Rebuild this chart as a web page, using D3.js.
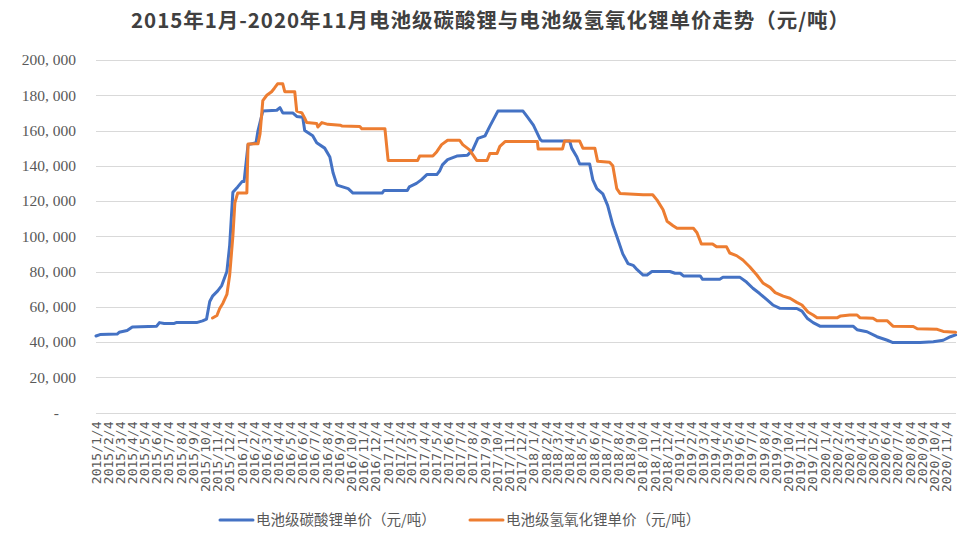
<!DOCTYPE html>
<html>
<head>
<meta charset="utf-8">
<script src="https://cdn.jsdelivr.net/npm/d3@7"></script>
<style>
  body { margin: 0; background: #fff; }
  svg { display: block; }
</style>
</head>
<body>
<svg id="graphic" width="974" height="543"></svg>
<script>
const title = '2015年1月-2020年11月电池级碳酸锂与电池级氢氧化锂单价走势（元/吨）';
const seriesNames = ['电池级碳酸锂单价（元/吨）', '电池级氢氧化锂单价（元/吨）'];

const carbonateDates = [
  '2015-01-04', '2015-01-14', '2015-02-26', '2015-03-03', '2015-03-23', '2015-04-05', '2015-06-05', '2015-06-12',
  '2015-06-24', '2015-07-19', '2015-07-24', '2015-09-13', '2015-09-28', '2015-10-08', '2015-10-16', '2015-10-23',
  '2015-11-05', '2015-11-15', '2015-11-28', '2015-12-05', '2015-12-13', '2015-12-25', '2016-01-05', '2016-01-10',
  '2016-01-20', '2016-02-09', '2016-02-14', '2016-02-26', '2016-04-01', '2016-04-09', '2016-04-16', '2016-05-11',
  '2016-05-21', '2016-06-05', '2016-06-10', '2016-06-30', '2016-07-10', '2016-07-30', '2016-08-12', '2016-08-20',
  '2016-08-30', '2016-09-27', '2016-10-09', '2016-12-21', '2016-12-26', '2017-02-22', '2017-02-27', '2017-03-17',
  '2017-03-29', '2017-04-12', '2017-05-07', '2017-05-14', '2017-05-21', '2017-06-03', '2017-06-26', '2017-07-23',
  '2017-08-05', '2017-08-18', '2017-09-05', '2017-09-17', '2017-10-07', '2017-12-09', '2017-12-19', '2018-01-04',
  '2018-01-21', '2018-01-26', '2018-04-05', '2018-04-10', '2018-04-23', '2018-04-30', '2018-05-25', '2018-06-02',
  '2018-06-12', '2018-06-27', '2018-07-09', '2018-07-22', '2018-08-04', '2018-08-16', '2018-08-29', '2018-09-11',
  '2018-09-21', '2018-10-06', '2018-10-16', '2018-10-28', '2018-12-12', '2018-12-25', '2019-01-07', '2019-01-15',
  '2019-02-26', '2019-03-04', '2019-04-16', '2019-04-24', '2019-06-05', '2019-06-22', '2019-07-08', '2019-07-25',
  '2019-08-12', '2019-08-27', '2019-09-14', '2019-10-26', '2019-11-08', '2019-11-21', '2019-12-06', '2019-12-23',
  '2020-03-15', '2020-03-25', '2020-04-19', '2020-05-14', '2020-06-09', '2020-06-23', '2020-08-30', '2020-10-02',
  '2020-10-27', '2020-11-14', '2020-11-27'
];
const carbonateValues = [
  43400, 44200, 44500, 45500, 46500, 48500, 49000, 51000,
  50500, 50500, 51000, 51000, 52000, 53000, 63000, 66000,
  69000, 72000, 80000, 95000, 125000, 128000, 131000, 131000,
  152000, 153000, 160000, 171000, 171500, 173000, 170000, 170000,
  168000, 167500, 160000, 157000, 153000, 150000, 145000, 136000,
  129000, 127000, 124500, 124500, 126000, 126000, 128000, 130000,
  132000, 135000, 135000, 137000, 140500, 143500, 145500, 146000,
  149000, 155500, 157000, 162500, 171000, 171000, 168000, 163000,
  155000, 154000, 154000, 150000, 145000, 141000, 141000, 132000,
  127000, 124000, 117500, 106500, 98000, 90000, 84500, 83500,
  81000, 78000, 78000, 80000, 80000, 79000, 79000, 77500,
  77500, 75600, 75600, 76700, 76800, 74000, 70500, 67500,
  64000, 61000, 59100, 59000, 57500, 53500, 51000, 49000,
  49000, 47000, 45800, 43000, 41000, 39700, 39700, 40200,
  41000, 43000, 44000
];

const hydroxideDates = [
  '2015-10-23', '2015-11-03', '2015-11-10', '2015-11-18', '2015-11-28', '2015-12-05', '2015-12-13', '2015-12-18',
  '2015-12-25', '2016-01-17', '2016-01-20', '2016-02-14', '2016-02-19', '2016-02-26', '2016-03-07', '2016-03-19',
  '2016-03-26', '2016-04-03', '2016-04-16', '2016-04-21', '2016-05-16', '2016-05-21', '2016-06-03', '2016-06-10',
  '2016-06-15', '2016-07-10', '2016-07-13', '2016-07-23', '2016-08-07', '2016-09-07', '2016-09-12', '2016-10-26',
  '2016-10-31', '2016-12-28', '2017-01-05', '2017-03-20', '2017-03-25', '2017-04-27', '2017-05-07', '2017-05-19',
  '2017-06-03', '2017-07-03', '2017-07-11', '2017-07-28', '2017-08-15', '2017-09-10', '2017-09-17', '2017-10-05',
  '2017-10-12', '2017-10-25', '2018-01-14', '2018-01-16', '2018-03-18', '2018-03-23', '2018-04-30', '2018-05-08',
  '2018-06-07', '2018-06-14', '2018-07-14', '2018-07-22', '2018-08-01', '2018-08-09', '2018-10-06', '2018-10-30',
  '2018-11-10', '2018-11-25', '2018-12-05', '2018-12-20', '2018-12-30', '2019-02-09', '2019-02-18', '2019-03-01',
  '2019-03-29', '2019-04-08', '2019-05-03', '2019-05-11', '2019-05-28', '2019-06-13', '2019-06-30', '2019-07-18',
  '2019-08-02', '2019-08-20', '2019-09-02', '2019-09-22', '2019-10-09', '2019-10-26', '2019-11-08', '2019-11-23',
  '2019-12-06', '2019-12-16', '2020-02-05', '2020-02-13', '2020-03-07', '2020-03-25', '2020-04-01', '2020-05-04',
  '2020-05-14', '2020-06-09', '2020-06-23', '2020-08-13', '2020-08-23', '2020-10-12', '2020-10-27', '2020-11-27'
];
const hydroxideValues = [
  53600, 55000, 59000, 62000, 67000, 78000, 100000, 119000,
  124500, 124500, 152300, 152500, 158000, 177000, 180000, 182000,
  184000, 186500, 186500, 182000, 182000, 171000, 170000, 167000,
  164500, 164000, 162000, 164500, 163500, 163000, 162500, 162300,
  161000, 161000, 143000, 143000, 145500, 145500, 148000, 152000,
  154500, 154500, 152000, 149000, 143000, 143000, 147000, 147000,
  151000, 153700, 153700, 149500, 149500, 154000, 154000, 150000,
  150000, 142500, 142000, 140000, 127000, 124300, 123500, 123500,
  120500, 115000, 108500, 106000, 104500, 104500, 102000, 95600,
  95600, 94000, 94000, 90500, 89000, 86500, 82700, 78000,
  73500, 71000, 68000, 66000, 64800, 62500, 61000, 57000,
  55300, 53800, 53800, 54800, 55300, 55300, 53800, 53500,
  52000, 52000, 49000, 48800, 47500, 47200, 46000, 45500
];

const yTicks = [0, 20000, 40000, 60000, 80000, 100000, 120000, 140000, 160000, 180000, 200000];
const yTickLabels = ['-', '20, 000', '40, 000', '60, 000', '80, 000', '100, 000', '120, 000', '140, 000', '160, 000', '180, 000', '200, 000'];
const xDomain = ['2015-01-04', '2020-11-28'];

const colors = ['#4472C4', '#ED7D31'];
const parse = d3.timeParse('%Y-%m-%d');
const margin = {left: 96, right: 18, top: 60, bottom: 130.5};
const width = 974, height = 543;

const svg = d3.select('#graphic');

const xScale = d3.scaleTime()
    .domain(xDomain.map(parse))
    .range([margin.left, width - margin.right]);

const yScale = d3.scaleLinear()
    .domain([0, 200000])
    .range([height - margin.bottom, margin.top]);

// title
svg.append('text')
    .attr('x', 490)
    .attr('y', 28)
    .attr('text-anchor', 'middle')
    .attr('font-family', '"Noto Sans CJK SC", sans-serif')
    .attr('font-size', 20.5)
    .attr('font-weight', 'bold')
    .attr('fill', '#404040')
    .attr('textLength', 718)
    .attr('lengthAdjust', 'spacing')
    .text(title);

// grid
svg.append('g')
    .selectAll('line')
    .data(yTicks)
    .join('line')
    .attr('x1', margin.left)
    .attr('x2', width - margin.right)
    .attr('y1', (d) => Math.round(yScale(d)) + 0.5)
    .attr('y2', (d) => Math.round(yScale(d)) + 0.5)
    .attr('stroke', '#d9d9d9')
    .attr('stroke-width', 1);

// y axis labels
const yAxis = d3.axisLeft(yScale)
    .tickValues(yTicks)
    .tickSize(0)
    .tickPadding(0)
    .tickFormat((d, i) => yTickLabels[i]);

const yG = svg.append('g')
    .attr('transform', 'translate(76,0)')
    .call(yAxis);
yG.select('.domain').remove();
yG.selectAll('text')
    .attr('font-family', '"Liberation Serif", serif')
    .attr('font-size', 15.5)
    .attr('fill', '#595959')
    .attr('dx', (d) => d === 0 ? -17 : 0);

// x axis labels, one per month
const monthTicks = d3.timeMonth.range(parse('2015-01-01'), parse('2020-11-02'))
    .map((d) => new Date(d.getFullYear(), d.getMonth(), 4));
const fmt = (d) => `${d.getFullYear()}/${d.getMonth() + 1}/${d.getDate()}`;

const xAxis = d3.axisBottom(xScale)
    .tickValues(monthTicks)
    .tickSize(0)
    .tickFormat(fmt);

const xG = svg.append('g')
    .attr('transform', `translate(0,${height - margin.bottom})`)
    .call(xAxis);
xG.select('.domain').remove();
xG.selectAll('text')
    .attr('font-family', '"DejaVu Sans Mono", monospace')
    .attr('font-size', 13)
    .attr('fill', '#595959')
    .attr('text-anchor', 'end')
    .attr('transform', 'rotate(-90)')
    .attr('x', -9)
    .attr('y', 0)
    .attr('dy', '0.35em');

// lines
const series = [
  {dates: carbonateDates, values: carbonateValues},
  {dates: hydroxideDates, values: hydroxideValues},
];

const line = d3.line()
    .x((d) => xScale(d[0]))
    .y((d) => yScale(d[1]))
    .curve(d3.curveLinear);

series.forEach((s, i) => {
  const pts = s.dates.map((d, j) => [parse(d), s.values[j]]);
  svg.append('path')
      .datum(pts)
      .attr('fill', 'none')
      .attr('stroke', colors[i])
      .attr('stroke-width', 3)
      .attr('stroke-linejoin', 'round')
      .attr('stroke-linecap', 'round')
      .attr('d', line);
});

// legend
const legendX = [220, 470];
const legend = svg.append('g');
seriesNames.forEach((name, i) => {
  legend.append('line')
      .attr('x1', legendX[i])
      .attr('x2', legendX[i] + 33)
      .attr('y1', 520)
      .attr('y2', 520)
      .attr('stroke', colors[i])
      .attr('stroke-width', 3)
      .attr('stroke-linecap', 'round');
  legend.append('text')
      .attr('x', legendX[i] + 36)
      .attr('y', 520)
      .attr('dy', '0.35em')
      .attr('font-family', '"Noto Sans CJK SC", sans-serif')
      .attr('font-size', 14.5)
      .attr('fill', '#595959')
      .text(name);
});
</script>
</body>
</html>
